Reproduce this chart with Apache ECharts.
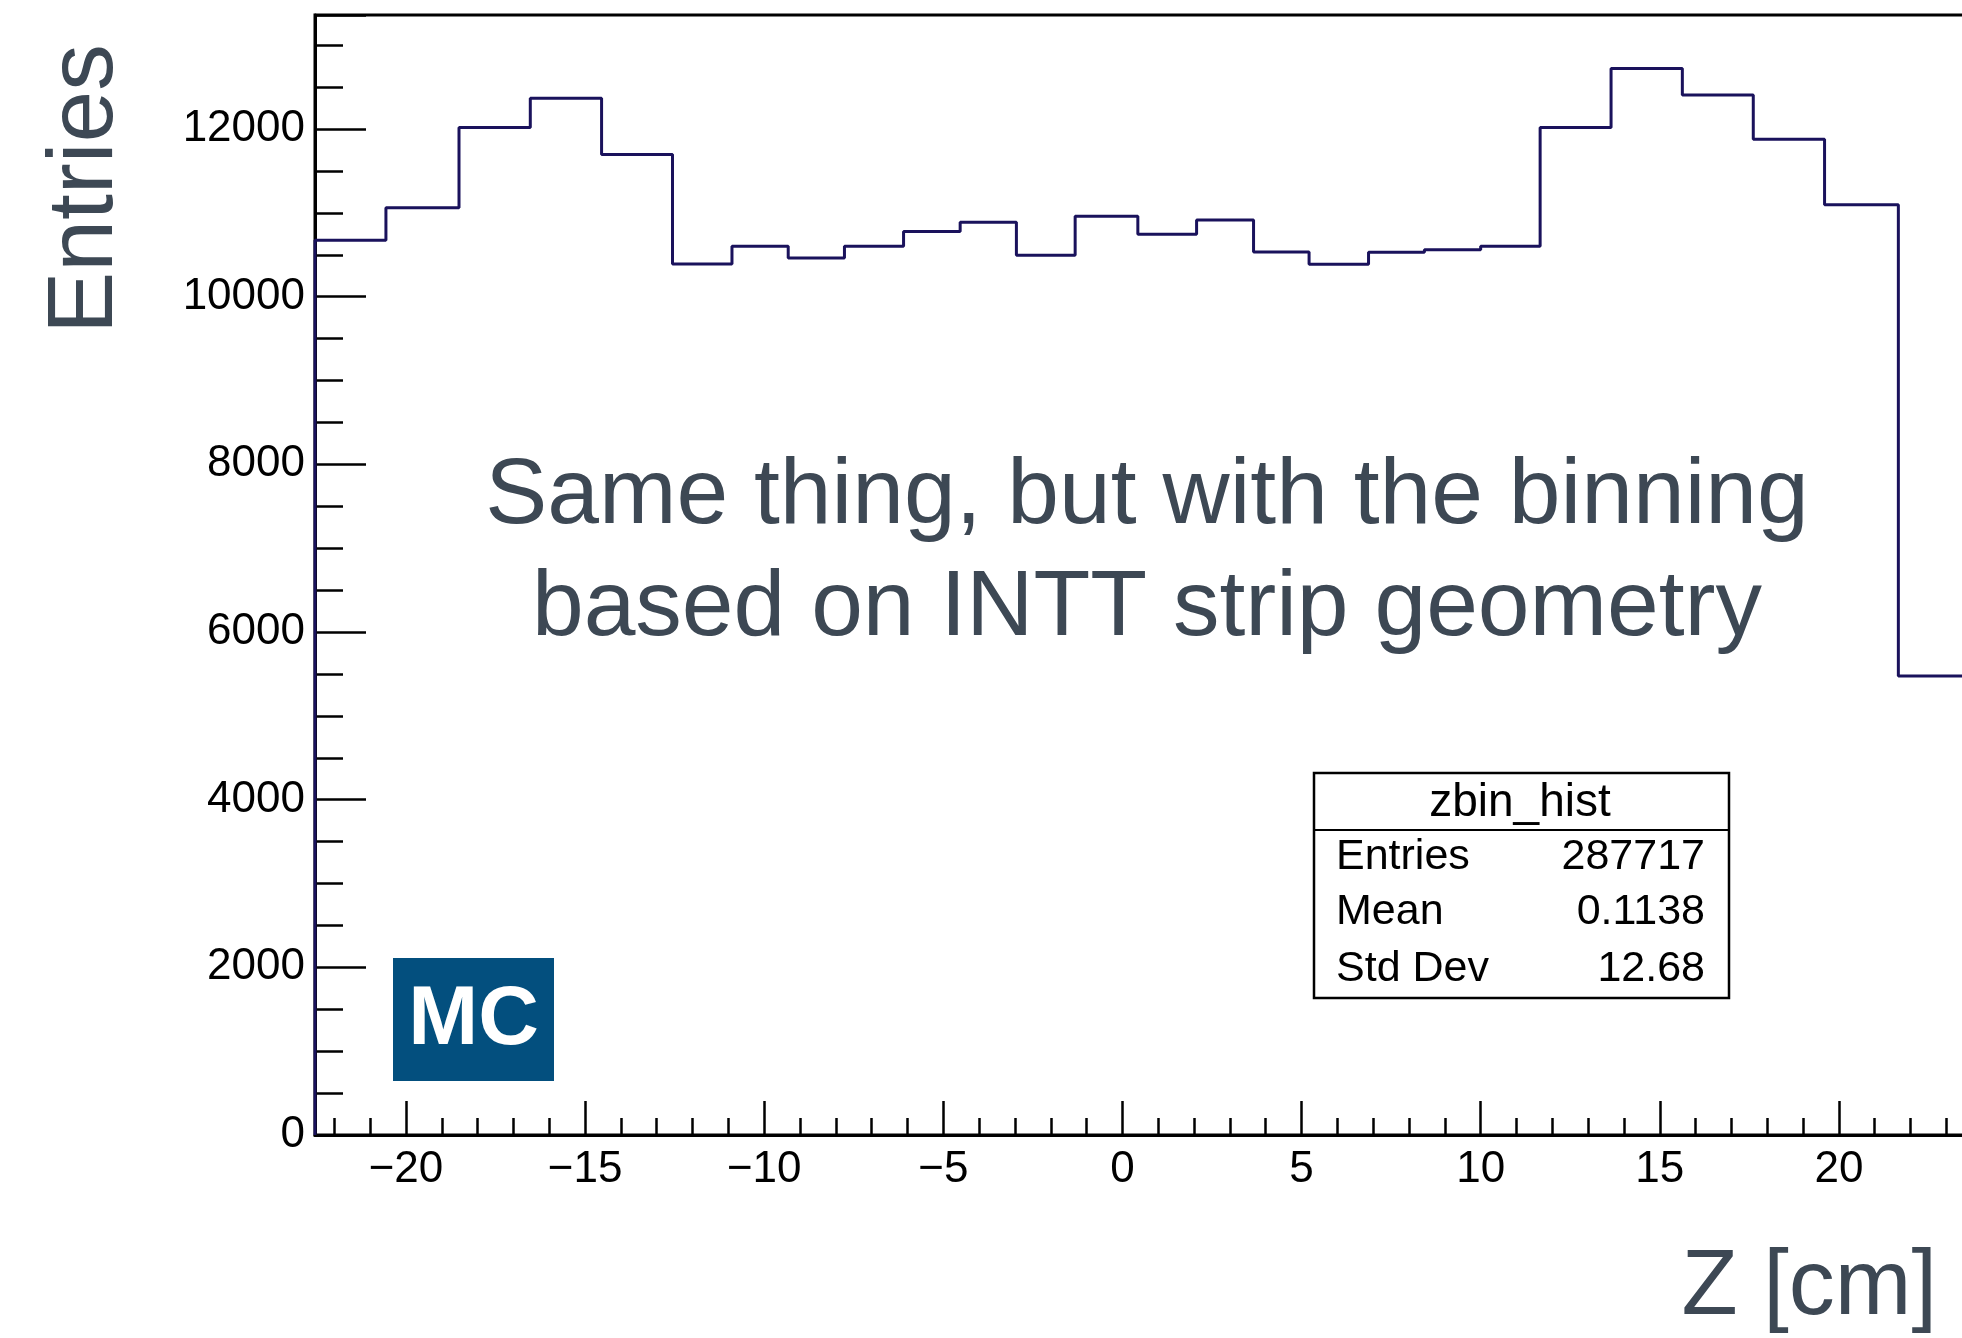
<!DOCTYPE html>
<html>
<head>
<meta charset="utf-8">
<title>zbin_hist</title>
<script src="https://cdn.jsdelivr.net/npm/echarts@6/dist/echarts.min.js"></script>
<style>
  html, body { margin: 0; padding: 0; background: #ffffff; }
  #chart { width: 1962px; height: 1338px; }
</style>
</head>
<body>
<div id="chart"></div>
<script>
// Bin edges along z [cm]: 2.0 cm strips on the outside, 1.6 cm strips in the middle
const binEdges = [
  -22.54, -20.56, -18.52, -16.53, -14.54, -12.56,
  -10.90, -9.33, -7.76, -6.11, -4.53, -2.96, -1.32, 0.43, 2.07, 3.66, 5.21, 6.87, 8.43, 10.00, 11.66,
  13.64, 15.63, 17.61, 19.60, 21.66, 23.66
];

// Entries per bin
const binEntries = [
  10673, 11062, 12017, 12368, 11695,
  10390, 10601, 10462, 10601, 10776, 10888, 10494, 10959, 10744, 10915, 10533, 10387, 10530, 10561, 10601,
  12017, 12721, 12407, 11878, 11098, 5474
];

// Axis ranges and tick spacing
const xRange = [-22.54, 23.66];
const yRange = [0, 13360];
const xMajorStep = 5;
const yMajorStep = 2000;

// Statistics box
const statsTitle = 'zbin_hist';
const statsNames = ['Entries', 'Mean', 'Std Dev'];
const statsValues = ['287717', '0.1138', '12.68'];

// Text on the canvas
const noteLines = ['Same thing, but with the binning', 'based on INTT strip geometry'];
const yTitle = 'Entries';
const xTitle = 'Z [cm]';
const badgeText = 'MC';

// Histogram outline: one horizontal segment per bin, joined by vertical steps
const outline = [[binEdges[0], 0]];
binEntries.forEach(function (v, i) {
  outline.push([binEdges[i], v], [binEdges[i + 1], v]);
});
outline.push([binEdges[binEdges.length - 1], 0]);

const FONT = '"Liberation Sans", Arial, Helvetica, sans-serif';
const TITLE_COLOR = '#3d4854';

const chart = echarts.init(document.getElementById('chart'), null, { renderer: 'canvas' });

function isMultiple(v, step) {
  const r = Math.abs(v / step - Math.round(v / step));
  return r < 1e-6;
}

const option = {
  backgroundColor: '#ffffff',
  animation: false,
  // The frame runs a little past the right edge of the canvas
  grid: {
    left: 315, width: 1655, top: 15, bottom: 203,
    outerBoundsMode: 'none',
    containLabel: false,
    show: true, borderColor: '#000000', borderWidth: 3, backgroundColor: 'transparent'
  },
  xAxis: {
    type: 'value',
    min: xRange[0], max: xRange[1],
    minInterval: xMajorStep, maxInterval: xMajorStep, splitNumber: 9,
    axisLine: { show: true, onZero: false, lineStyle: { color: '#000000', width: 3 } },
    axisTick: { show: true, inside: true, length: 34, lineStyle: { color: '#000000', width: 2.5 } },
    minorTick: { show: true, splitNumber: 5, length: 17, lineStyle: { color: '#000000', width: 2.5 } },
    splitLine: { show: false },
    minorSplitLine: { show: false },
    axisLabel: {
      show: true, margin: 13, color: '#000000', fontFamily: FONT, fontSize: 44,
      formatter: function (v) {
        if (!isMultiple(v, xMajorStep)) return '';
        return String(Math.round(v)).replace('-', '\u2212');
      }
    }
  },
  yAxis: {
    type: 'value',
    min: yRange[0], max: yRange[1],
    minInterval: yMajorStep, maxInterval: yMajorStep, splitNumber: 6,
    axisLine: { show: true, onZero: false, lineStyle: { color: '#000000', width: 3 } },
    axisTick: { show: true, inside: true, length: 51, lineStyle: { color: '#000000', width: 2.5 } },
    minorTick: { show: true, splitNumber: 4, length: 28, lineStyle: { color: '#000000', width: 2.5 } },
    splitLine: { show: false },
    minorSplitLine: { show: false },
    axisLabel: {
      show: true, margin: 10, color: '#000000', fontFamily: FONT, fontSize: 44,
      formatter: function (v) {
        if (!isMultiple(v, yMajorStep)) return '';
        return String(Math.round(v));
      }
    }
  },
  series: [{
    type: 'line',
    name: statsTitle,
    data: outline,
    showSymbol: false,
    symbol: 'none',
    clip: true,
    lineStyle: { color: '#1a125c', width: 3 },
    z: 3
  }],
  graphic: [
    // Axis titles
    {
      type: 'text', x: 86, y: 189, rotation: Math.PI / 2,
      style: { text: yTitle, fontFamily: FONT, fontSize: 93, fill: TITLE_COLOR, align: 'center', verticalAlign: 'middle' }
    },
    {
      type: 'text', x: 1937, y: 1289,
      style: { text: xTitle, fontFamily: FONT, fontSize: 92, fill: TITLE_COLOR, align: 'right', verticalAlign: 'middle' }
    },
    // Note in the middle of the pad
    {
      type: 'text', x: 1147, y: 497,
      style: { text: noteLines[0], fontFamily: FONT, fontSize: 93, fill: TITLE_COLOR, align: 'center', verticalAlign: 'middle' }
    },
    {
      type: 'text', x: 1147, y: 609,
      style: { text: noteLines[1], fontFamily: FONT, fontSize: 93, fill: TITLE_COLOR, align: 'center', verticalAlign: 'middle' }
    },
    // MC badge
    {
      type: 'rect', shape: { x: 393, y: 958, width: 161, height: 123 },
      style: { fill: '#034f7e' }, z: 10
    },
    {
      type: 'text', x: 473.5, y: 1021, z: 11,
      style: { text: badgeText, fontFamily: FONT, fontSize: 84, fontWeight: 'bold', fill: '#ffffff', align: 'center', verticalAlign: 'middle' }
    },
    // Statistics box
    {
      type: 'rect', shape: { x: 1314, y: 773, width: 415, height: 225 },
      style: { fill: '#ffffff', stroke: '#000000', lineWidth: 2.5 }, z: 10
    },
    {
      type: 'line', shape: { x1: 1314, y1: 830, x2: 1729, y2: 830 },
      style: { stroke: '#000000', lineWidth: 2 }, z: 11
    },
    {
      type: 'text', x: 1520, y: 803, z: 11,
      style: { text: statsTitle, fontFamily: FONT, fontSize: 46, fill: '#000000', align: 'center', verticalAlign: 'middle' }
    }
  ]
};

// Rows of the statistics box
const rowY = [857, 912, 969];
statsNames.forEach(function (name, i) {
  option.graphic.push({
    type: 'text', x: 1336, y: rowY[i], z: 11,
    style: { text: name, fontFamily: FONT, fontSize: 43, fill: '#000000', align: 'left', verticalAlign: 'middle' }
  });
  option.graphic.push({
    type: 'text', x: 1705, y: rowY[i], z: 11,
    style: { text: statsValues[i], fontFamily: FONT, fontSize: 43, fill: '#000000', align: 'right', verticalAlign: 'middle' }
  });
});

chart.setOption(option);
</script>
</body>
</html>
